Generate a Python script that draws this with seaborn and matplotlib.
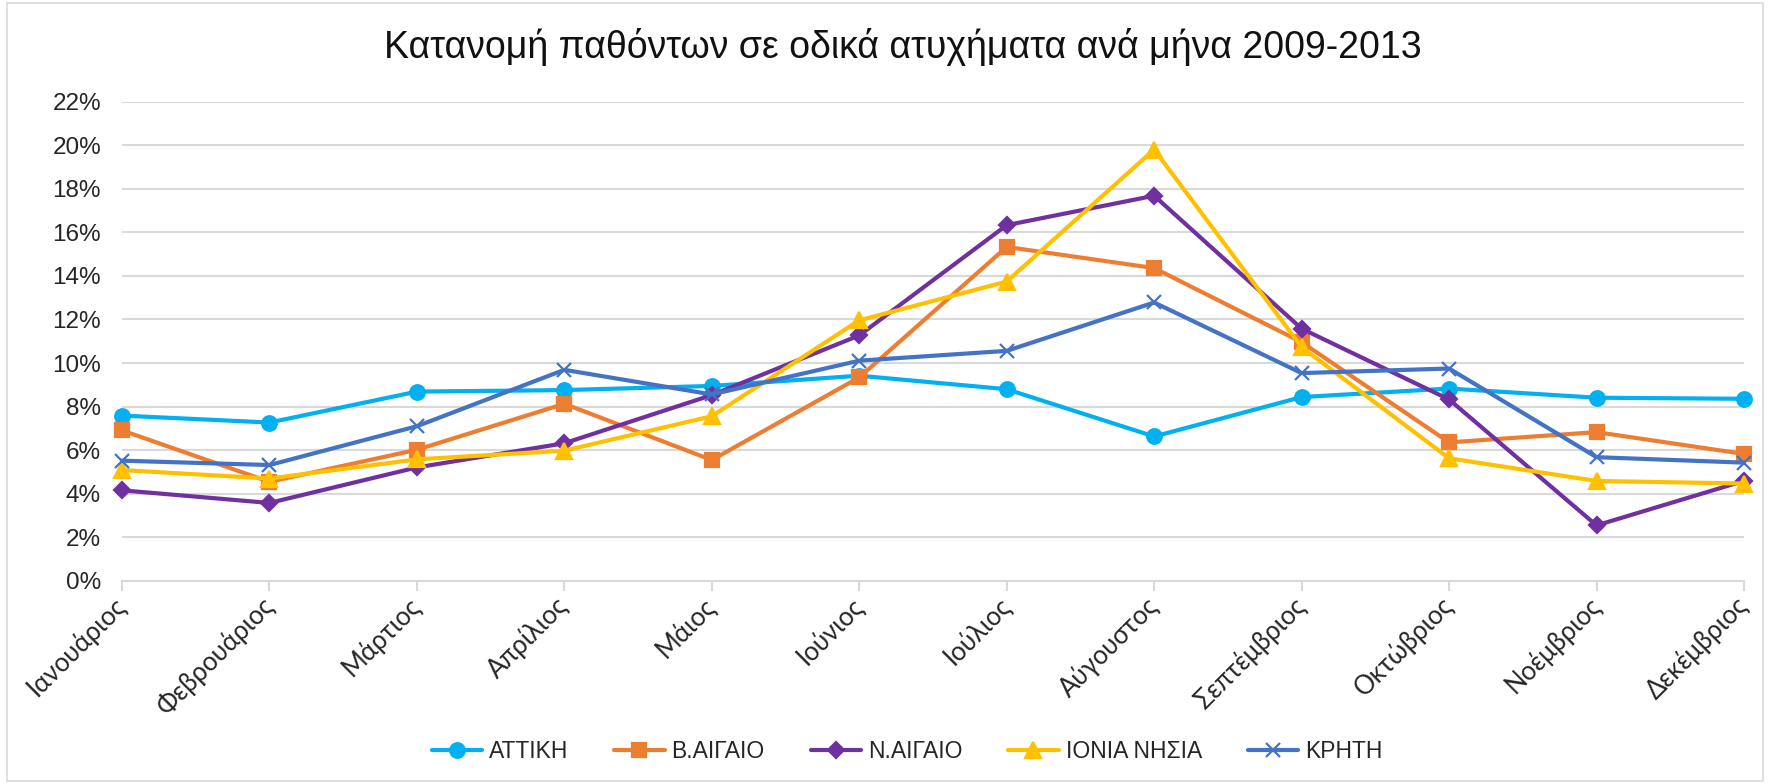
import matplotlib
matplotlib.use("Agg")
import matplotlib.pyplot as plt
import seaborn as sns
import pandas as pd
from matplotlib.ticker import PercentFormatter, MultipleLocator
from matplotlib.patches import Rectangle

months = ["Ιανουάριος", "Φεβρουάριος", "Μάρτιος", "Απρίλιος", "Μάιος", "Ιούνιος",
          "Ιούλιος", "Αύγουστος", "Σεπτέμβριος", "Οκτώβριος", "Νοέμβριος", "Δεκέμβριος"]
regions = ["ΑΤΤΙΚΗ", "Β.ΑΙΓΑΙΟ", "Ν.ΑΙΓΑΙΟ", "ΙΟΝΙΑ ΝΗΣΙΑ", "ΚΡΗΤΗ"]

attiki    = [7.59, 7.27, 8.69, 8.76, 8.95, 9.42, 8.80, 6.63, 8.44, 8.83, 8.41, 8.36]
v_aigaio  = [6.91, 4.55, 6.02, 8.13, 5.55, 9.34, 15.33, 14.36, 10.96, 6.36, 6.83, 5.83]
n_aigaio  = [4.16, 3.58, 5.21, 6.32, 8.53, 11.27, 16.33, 17.68, 11.58, 8.33, 2.55, 4.59]
ionia     = [5.09, 4.70, 5.58, 5.98, 7.56, 11.96, 13.74, 19.80, 10.73, 5.63, 4.59, 4.47]
kriti     = [5.52, 5.32, 7.10, 9.69, 8.56, 10.11, 10.56, 12.78, 9.54, 9.75, 5.68, 5.43]

series = [attiki, v_aigaio, n_aigaio, ionia, kriti]
colors = ["#00B0F0", "#ED7D31", "#7030A0", "#FFC000", "#4472C4"]
markers = ["o", "s", "D", "^", "x"]
msizes = [10.5, 10, 8.5, 11, 10.5]

sns.set_theme(style="white")
plt.rcParams["font.family"] = ["Liberation Sans", "DejaVu Sans"]

fig = plt.figure(figsize=(17.7, 7.84), dpi=100)
ax = fig.add_axes([0.0689, 0.259, 0.9164, 0.6114])

for r, vals, c, m, ms in zip(regions, series, colors, markers, msizes):
    d = pd.DataFrame({"month": months, "value": [v / 100.0 for v in vals]})
    sns.lineplot(data=d, x="month", y="value", color=c, marker=m, markersize=ms,
                 markeredgecolor=c, markeredgewidth=1.6, linewidth=3.0, sort=False,
                 label=r, ax=ax, clip_on=False)

ax.set_ylim(0, 0.22)
ax.yaxis.set_major_locator(MultipleLocator(0.02))
ax.yaxis.set_major_formatter(PercentFormatter(1.0, decimals=0))
ax.set_xlim(0, len(months) - 1)
ax.grid(axis="y", color="#d9d9d9", linewidth=1.5)
ax.grid(axis="x", visible=False)
for s in ["top", "right", "left"]:
    ax.spines[s].set_visible(False)
ax.spines["bottom"].set_color("#d9d9d9")
ax.spines["bottom"].set_linewidth(1.5)
ax.tick_params(axis="x", which="major", length=7, color="#d9d9d9", width=1.5,
               direction="out", bottom=True, pad=8)
ax.tick_params(axis="y", length=0, labelsize=17.5, pad=15)
ax.set_xticks(range(len(months)))
ax.set_xticklabels(months, rotation=45, ha="right", va="center",
                   rotation_mode="anchor", fontsize=18.5, family=["Lato", "DejaVu Sans"])
ax.set_xlabel("")
ax.set_ylabel("")

fig.text(0.51, 0.9395, "Κατανομή παθόντων σε οδικά ατυχήματα ανά μήνα 2009-2013",
         ha="center", va="center", fontsize=27, color="#111111")

leg = ax.legend(loc="center", bbox_to_anchor=(0.484, -0.355), ncol=5,
                frameon=False, fontsize=16.5, handlelength=2.2, columnspacing=2.0,
                handletextpad=0.3)

fig.patches.append(Rectangle((0.004, 0.004), 0.992, 0.992, transform=fig.transFigure,
                             fill=False, edgecolor="#d9d9d9", linewidth=1.2))

fig.savefig("out.png", dpi=100)
